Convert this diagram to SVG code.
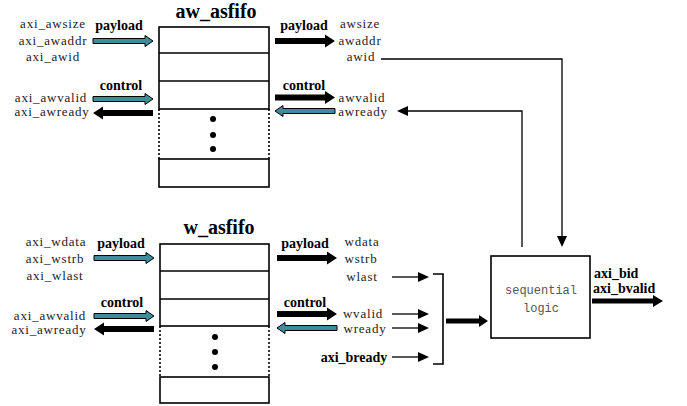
<svg xmlns="http://www.w3.org/2000/svg" xmlns:xlink="http://www.w3.org/1999/xlink" width="687" height="406" viewBox="0 0 687 406">
<style>
.t{font-family:"Liberation Serif","Times New Roman",serif;font-size:13px;letter-spacing:0.8px;fill:#222;text-anchor:middle}
.b{font-family:"Liberation Serif","Times New Roman",serif;font-size:14px;font-weight:bold;fill:#000;text-anchor:middle}
.ti{font-family:"Liberation Serif","Times New Roman",serif;font-size:20px;font-weight:bold;fill:#000;text-anchor:middle}
.m{font-family:"Liberation Mono","Courier New",monospace;font-size:12px;fill:#555;text-anchor:middle}
.box{fill:#fff;stroke:#000;stroke-width:1.6}
.ln{fill:none;stroke:#000;stroke-width:1.6}
.dot{fill:none;stroke:#000;stroke-width:1.6;stroke-dasharray:2,2}
.wire{fill:none;stroke:#000;stroke-width:1.3}
.head{fill:#000}
</style>
<defs>
<path id="tealR" d="M0,-2.5 H52 V-5.5 L60,0 L52,5.5 V2.5 H0 Z" fill="#3f8c9c" stroke="#000" stroke-width="1"/>
<path id="blackR" d="M0,-3 H50 V-6.5 L60,0 L50,6.5 V3 H0 Z" fill="#000"/>
</defs>

<g id="aw_asfifo">
<text class="ti" x="216" y="18">aw_asfifo</text>
<rect class="box" x="159" y="27" width="110" height="82"/>
<line class="ln" x1="159" y1="53" x2="269" y2="53"/>
<line class="ln" x1="159" y1="81" x2="269" y2="81"/>
<line class="dot" x1="159" y1="109" x2="159" y2="159"/>
<line class="dot" x1="269" y1="109" x2="269" y2="159"/>
<rect class="box" x="159" y="159" width="110" height="28"/>
<circle cx="213" cy="119" r="3"/>
<circle cx="213" cy="135" r="3"/>
<circle cx="213" cy="149" r="3"/>
</g>

<g id="w_asfifo">
<text class="ti" x="219" y="234">w_asfifo</text>
<rect class="box" x="160" y="244" width="109" height="82"/>
<line class="ln" x1="160" y1="271" x2="269" y2="271"/>
<line class="ln" x1="160" y1="299" x2="269" y2="299"/>
<line class="dot" x1="160" y1="326" x2="160" y2="377"/>
<line class="dot" x1="269" y1="326" x2="269" y2="377"/>
<rect class="box" x="160" y="377" width="109" height="26"/>
<circle cx="215" cy="337" r="3"/>
<circle cx="215" cy="352" r="3"/>
<circle cx="215" cy="367" r="3"/>
</g>

<g id="seq_logic">
<rect class="box" x="491" y="256" width="99" height="82"/>
<text class="m" x="541" y="294">sequential</text>
<text class="m" x="541" y="312">logic</text>
</g>

<g id="labels">
<text class="t" x="53" y="28">axi_awsize</text>
<text class="t" x="53" y="45">axi_awaddr</text>
<text class="t" x="53" y="61">axi_awid</text>
<text class="b" x="119" y="30">payload</text>
<text class="b" x="121" y="90">control</text>
<text class="t" x="51" y="102">axi_awvalid</text>
<text class="t" x="52" y="116">axi_awready</text>

<text class="b" x="304" y="30">payload</text>
<text class="t" x="360" y="28">awsize</text>
<text class="t" x="360" y="45">awaddr</text>
<text class="t" x="361" y="61">awid</text>
<text class="b" x="304" y="90">control</text>
<text class="t" x="362" y="102">awvalid</text>
<text class="t" x="363" y="116">awready</text>

<text class="t" x="56" y="246">axi_wdata</text>
<text class="t" x="55" y="263">axi_wstrb</text>
<text class="t" x="55" y="280">axi_wlast</text>
<text class="b" x="121" y="248">payload</text>
<text class="b" x="122" y="307">control</text>
<text class="t" x="50" y="320">axi_awvalid</text>
<text class="t" x="49" y="334">axi_awready</text>

<text class="b" x="305" y="248">payload</text>
<text class="t" x="362" y="246">wdata</text>
<text class="t" x="361" y="263">wstrb</text>
<text class="t" x="362" y="281">wlast</text>
<text class="b" x="305" y="307">control</text>
<text class="t" x="363" y="318">wvalid</text>
<text class="t" x="365" y="333">wready</text>
<text class="b" x="354" y="362">axi_bready</text>

<text class="b" x="594" y="278" style="text-anchor:start">axi_bid</text>
<text class="b" x="593" y="293" style="text-anchor:start">axi_bvalid</text>
</g>

<g id="connectors">
<use xlink:href="#tealR" href="#tealR" transform="translate(93,41)"/>
<use xlink:href="#tealR" href="#tealR" transform="translate(93,99)"/>
<use xlink:href="#blackR" href="#blackR" transform="translate(153,113) scale(-1,1)"/>
<use xlink:href="#blackR" href="#blackR" transform="translate(275,41)"/>
<use xlink:href="#blackR" href="#blackR" transform="translate(275,97.5)"/>
<use xlink:href="#tealR" href="#tealR" transform="translate(335,111) scale(-1,1)"/>

<use xlink:href="#tealR" href="#tealR" transform="translate(94,258)"/>
<use xlink:href="#tealR" href="#tealR" transform="translate(94,316)"/>
<use xlink:href="#blackR" href="#blackR" transform="translate(154,329) scale(-1,1)"/>
<use xlink:href="#blackR" href="#blackR" transform="translate(277,258)"/>
<use xlink:href="#blackR" href="#blackR" transform="translate(277,314)"/>
<use xlink:href="#tealR" href="#tealR" transform="translate(337,328) scale(-1,1)"/>

<polyline class="wire" points="381,59 562,59 562,240"/>
<path class="head" d="M562,247 L557,236 L567,236 Z"/>
<polyline class="wire" points="522,247 522,111 405,111"/>
<path class="head" d="M397,111 L408,106 L408,116 Z"/>

<line class="wire" x1="392" y1="277" x2="420" y2="277"/>
<path class="head" d="M429,277 L418,272 L418,282 Z"/>
<line class="wire" x1="392" y1="314" x2="420" y2="314"/>
<path class="head" d="M429,314 L418,309 L418,319 Z"/>
<line class="wire" x1="392" y1="328" x2="420" y2="328"/>
<path class="head" d="M429,328 L418,323 L418,333 Z"/>
<line class="wire" x1="392" y1="357" x2="420" y2="357"/>
<path class="head" d="M429,357 L418,352 L418,362 Z"/>
<path class="ln" d="M433,274 H443 V364 H433"/>

<path d="M446,318.5 H479 V315 L488,321 L479,327 V323.5 H446 Z" fill="#000"/>
<path d="M592,298.5 H653 V295 L663,301 L653,307 V303.5 H592 Z" fill="#000"/>
</g>
</svg>
